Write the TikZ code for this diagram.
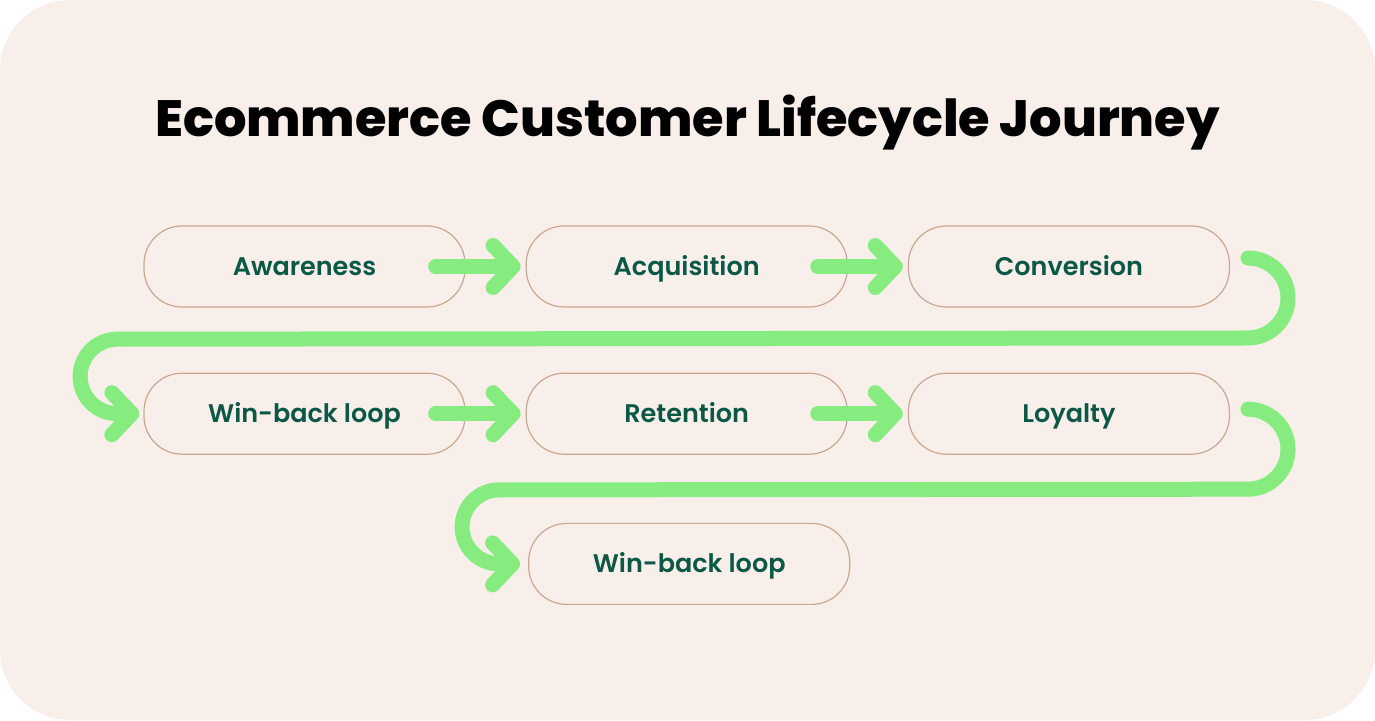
\documentclass[tikz,border=0pt]{standalone}
\usepackage{fontspec}
\setmainfont{Poppins}
\newfontfamily\labelfont{Poppins SemiBold}
\newfontfamily\headfont{Poppins ExtraBold}
\usetikzlibrary{arrows.meta,positioning,calc}

\definecolor{paper}{HTML}{F8EFEA}
\definecolor{boxline}{HTML}{C9A891}
\definecolor{labelgreen}{HTML}{0C5846}
\definecolor{flowgreen}{HTML}{86EC7F}

\begin{document}
\begin{tikzpicture}[x=1pt, y=1pt, node distance=65pt and 60pt,
  stage/.style={draw=boxline, line width=1.2pt, rounded corners=38pt, minimum width=321pt, minimum height=81pt,
    text=labelgreen, text height=18pt, text depth=0pt, font=\labelfont\fontsize{25.5}{30}\selectfont},
  flow/.style={draw=flowgreen, line width=15pt, line cap=round, line join=round,
    -{Straight Barb[round, length=20pt, width=42pt]}}]
  % canvas
  \useasboundingbox (0,0) rectangle (1375,720);
  \fill[paper, rounded corners=70pt] (0,0) rectangle (1375,720);
  \node[font=\headfont\fontsize{51}{60}\selectfont, anchor=base] (title) at (687.5,583) {Ecommerce Customer Lifecycle Journey};
  % stages
  \node[stage] (aware) at (304.5,453.5) {Awareness};
  \node[stage, right=of aware] (acq) {Acquisition};
  \node[stage, right=of acq] (conv) {Conversion};
  \node[stage, below=of aware] (winA) {Win-back loop};
  \node[stage, right=of winA] (ret) {Retention};
  \node[stage, right=of ret] (loy) {Loyalty};
  \node[stage, below=68pt of ret, xshift=2.5pt] (winB) {Win-back loop};
  % connectors
  \draw[flow] ([xshift=-30pt]aware.east) -- ([xshift=-5pt]acq.west);
  \draw[flow] ([xshift=-30pt]acq.east) -- ([xshift=-5pt]conv.west);
  \draw[flow] ([xshift=-30pt]winA.east) -- ([xshift=-5pt]ret.west);
  \draw[flow] ([xshift=-30pt]ret.east) -- ([xshift=-5pt]loy.west);
  \draw[flow] ([shift={(18pt,8.5pt)}]conv.east) arc[start angle=90, end angle=-90, radius=40pt]
    -- ($(winA.west)+(-26pt,74.5pt)$) arc[start angle=90, end angle=270, radius=37.25pt]
    -- ([xshift=-4pt]winA.west);
  \draw[flow] ([shift={(18pt,4.5pt)}]loy.east) arc[start angle=90, end angle=-90, radius=40pt]
    -- ($(winB.west)+(-29pt,74pt)$) arc[start angle=90, end angle=270, radius=37pt]
    -- ([xshift=-8pt]winB.west);
\end{tikzpicture}
\end{document}
